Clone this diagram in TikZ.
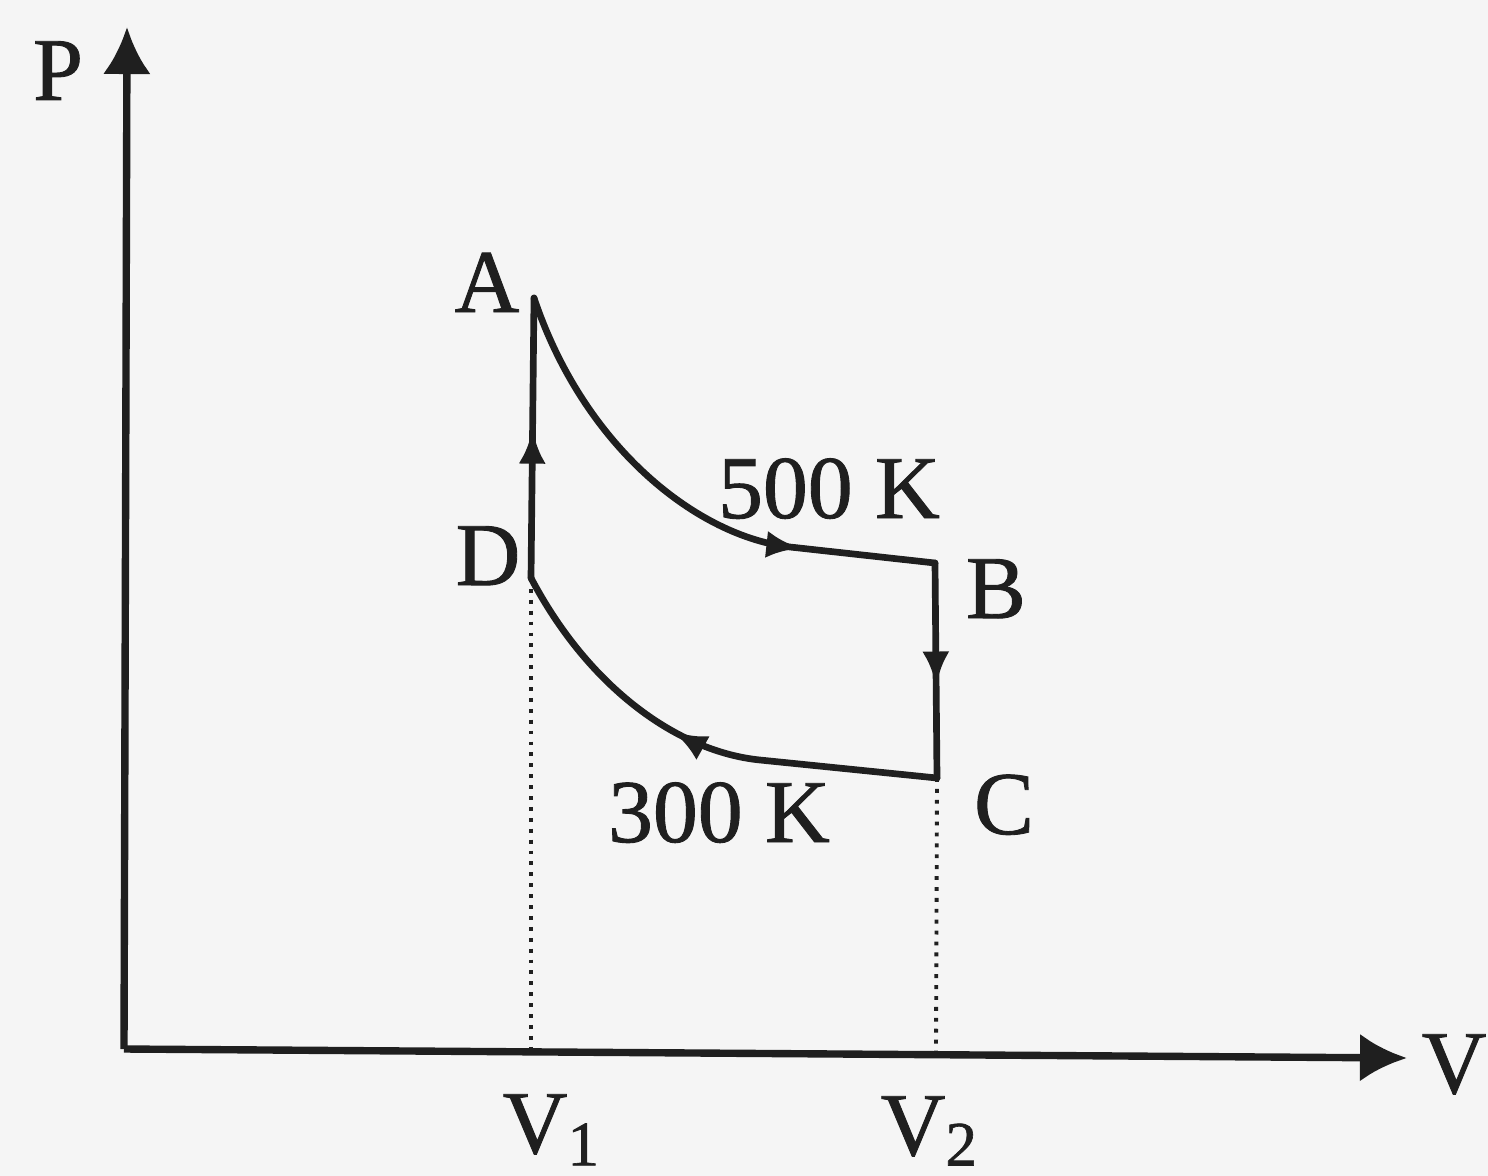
\documentclass[tikz,border=0pt]{standalone}
\usepackage{fontspec}
\setmainfont{Liberation Serif}[BoldFont=Liberation Serif,BoldFeatures={FakeBold=1.0}]
\usetikzlibrary{arrows.meta,decorations.markings}
\begin{document}
\begin{tikzpicture}[x=0.01cm,y=-0.01cm,
  ink/.style={draw=black!88},
  axis/.style={ink,line width=2.1pt,-{Latex[length=0.47cm,width=0.48cm]}},
  cyclepath/.style={ink,line width=1.9pt,line join=round,line cap=round},
  guide/.style={ink,line width=1.1pt,dotted},
  lbl/.style={inner sep=0pt,anchor=base,text=black!88,font=\fontsize{25.5}{30}\selectfont\bfseries},
  midarrow/.style={postaction={decorate},decoration={markings,mark=at position #1 with {\arrow[black!88]{Latex[length=0.34cm,width=0.27cm]}}}}]
\fill[black!4] (0,0) rectangle (1488,1176);
\useasboundingbox (0,0) rectangle (1488,1176);
% key points
\coordinate (O) at (124,1049);
\coordinate (Ytip) at (127,27);
\coordinate (Xtip) at (1407,1058);
\coordinate (A) at (534,298);
\coordinate (D) at (531,578);
\coordinate (B) at (935,563);
\coordinate (C) at (937,778);
\coordinate (F1) at (531,1050);
\coordinate (F2) at (936,1054);
% axes
\draw[axis] (O) -- (Ytip);
\draw[axis] (O) -- (Xtip);
% guides
\draw[guide] (D) -- (F1);
\draw[guide] (C) -- (F2);
% cycle
\draw[cyclepath,midarrow=0.53] (D) -- (A);
\draw[cyclepath,midarrow=0.74] (A) .. controls (585,450) and (700,537) .. (790,547) -- (B);
\draw[cyclepath,midarrow=0.57] (B) -- (C);
\draw[cyclepath,midarrow=0.56] (C) -- (760,760) .. controls (680,752) and (590,690) .. (D);
% labels
\node[lbl] (lP) at (58,100) {P};
\node[lbl] (lA) at (487,312) {A};
\node[lbl] (lD) at (488,585) {D};
\node[lbl] (lB) at (996,618) {B};
\node[lbl] (lC) at (1004,834) {C};
\node[lbl] (lhot) at (829,518) {500 K};
\node[lbl] (lcold) at (719,842) {300 K};
\node[lbl,anchor=base west] (lV1) at (502,1153) {V\raisebox{-3.5pt}{\fontsize{18}{18}\selectfont 1}};
\node[lbl,anchor=base west] (lV2) at (880,1155) {V\raisebox{-3pt}{\fontsize{18}{18}\selectfont 2}};
\node[lbl,anchor=base west] (lV) at (1421,1093) {V};
\end{tikzpicture}
\end{document}
